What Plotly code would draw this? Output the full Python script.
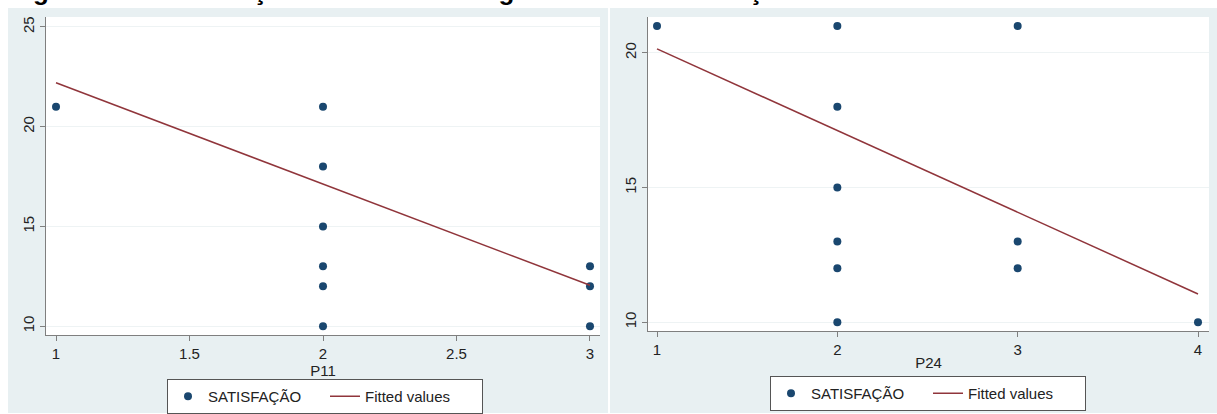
import plotly.graph_objects as go

W, H = 1217, 414

# Panel 1: SATISFAÇÃO vs P11
p11_x = [1, 2, 2, 2, 2, 2, 2, 3, 3, 3]
p11_y = [21, 21, 18, 15, 13, 12, 10, 13, 12, 10]
p11_fit_x = [1, 3]
p11_fit_y = [22.2, 12.05]

# Panel 2: SATISFAÇÃO vs P24
p24_x = [1, 2, 2, 2, 2, 2, 2, 3, 3, 3, 4]
p24_y = [21, 21, 18, 15, 13, 12, 10, 21, 13, 12, 10]
p24_fit_x = [1, 4]
p24_fit_y = [20.15, 11.05]

p11_xticks = [1, 1.5, 2, 2.5, 3]
p11_xtext = ["1", "1.5", "2", "2.5", "3"]
p11_yticks = [10, 15, 20, 25]
p24_xticks = [1, 2, 3, 4]
p24_yticks = [10, 15, 20]

caption = ("Figura 4 –\u00a0\u00a0\u00a0\u00a0Correlações estatísticas negativas "
           "entre satisfação e resiliência")

NAVY = "#1a476f"
MAROON = "#90353b"
REGION = "#e8f0f2"
FONT = "Liberation Sans, Arial, sans-serif"
FS = 15


def px_x(p):
    return p / W


def px_y(p):
    return 1 - p / H


fig = go.Figure()

fig.add_trace(go.Scatter(x=p11_x, y=p11_y, mode="markers", name="SATISFAÇÃO",
                         marker=dict(color=NAVY, size=8), xaxis="x", yaxis="y",
                         legend="legend"))
fig.add_trace(go.Scatter(x=p11_fit_x, y=p11_fit_y, mode="lines", name="Fitted values",
                         line=dict(color=MAROON, width=1.5), xaxis="x", yaxis="y",
                         legend="legend"))
fig.add_trace(go.Scatter(x=p24_x, y=p24_y, mode="markers", name="SATISFAÇÃO",
                         marker=dict(color=NAVY, size=8), xaxis="x2", yaxis="y2",
                         legend="legend2"))
fig.add_trace(go.Scatter(x=p24_fit_x, y=p24_fit_y, mode="lines", name="Fitted values",
                         line=dict(color=MAROON, width=1.5), xaxis="x2", yaxis="y2",
                         legend="legend2"))

axis_common = dict(
    showline=True, linecolor="#7f7f7f", linewidth=1,
    ticks="outside", ticklen=5, tickcolor="#7f7f7f", tickwidth=1,
    zeroline=False, tickfont=dict(family=FONT, size=FS, color="#222"),
    mirror=False,
)

legend_common = dict(
    orientation="h", xanchor="left", yanchor="top",
    bgcolor="white", bordercolor="#555", borderwidth=1,
    entrywidth=112, entrywidthmode="pixels",
    font=dict(family=FONT, size=FS, color="#222"),
)

fig.update_layout(
    width=W, height=H,
    margin=dict(l=0, r=0, t=0, b=0),
    paper_bgcolor="white",
    plot_bgcolor="white",
    font=dict(family=FONT, size=FS, color="#222"),
    xaxis=dict(domain=[px_x(46), px_x(600)], range=[0.9625, 3.0375],
               tickvals=p11_xticks, ticktext=p11_xtext, showgrid=False,
               anchor="y", title=dict(text="P11", standoff=0,
                                      font=dict(family=FONT, size=FS, color="#222")),
               **axis_common),
    yaxis=dict(domain=[px_y(336), px_y(17)], range=[9.55, 25.5],
               tickvals=p11_yticks, tickangle=-90, showgrid=True,
               gridcolor="#eef3f4", gridwidth=1, anchor="x", **axis_common),
    xaxis2=dict(domain=[px_x(648), px_x(1209)], range=[0.95, 4.061],
                tickvals=p24_xticks, showgrid=False, anchor="y2",
                title=dict(text="P24", standoff=0,
                           font=dict(family=FONT, size=FS, color="#222")),
                **axis_common),
    yaxis2=dict(domain=[px_y(332), px_y(17)], range=[9.667, 21.333],
                tickvals=p24_yticks, tickangle=-90, showgrid=True,
                gridcolor="#eef3f4", gridwidth=1, anchor="x2", **axis_common),
    legend=dict(x=px_x(167), y=px_y(380), **legend_common),
    legend2=dict(x=px_x(770), y=px_y(376), **legend_common),
    showlegend=True,
)

# graph regions behind each panel
fig.add_shape(type="rect", xref="paper", yref="paper", layer="below",
              x0=px_x(8), x1=px_x(608), y0=0, y1=px_y(8),
              fillcolor=REGION, line=dict(width=0))
fig.add_shape(type="rect", xref="paper", yref="paper", layer="below",
              x0=px_x(610), x1=1, y0=0, y1=px_y(8),
              fillcolor=REGION, line=dict(width=0))
# white plot areas
fig.add_shape(type="rect", xref="paper", yref="paper", layer="below",
              x0=px_x(46), x1=px_x(600), y0=px_y(336), y1=px_y(17),
              fillcolor="white", line=dict(width=0))
fig.add_shape(type="rect", xref="paper", yref="paper", layer="below",
              x0=px_x(648), x1=px_x(1209), y0=px_y(332), y1=px_y(17),
              fillcolor="white", line=dict(width=0))

# figure caption above the panels (runs off the top edge)
fig.add_annotation(text="<b>" + caption + "</b>", xref="paper", yref="paper",
                   x=px_x(8), y=px_y(-9), xanchor="left", yanchor="middle",
                   showarrow=False, font=dict(family=FONT, size=26, color="black"))

fig.write_html("out.html")
